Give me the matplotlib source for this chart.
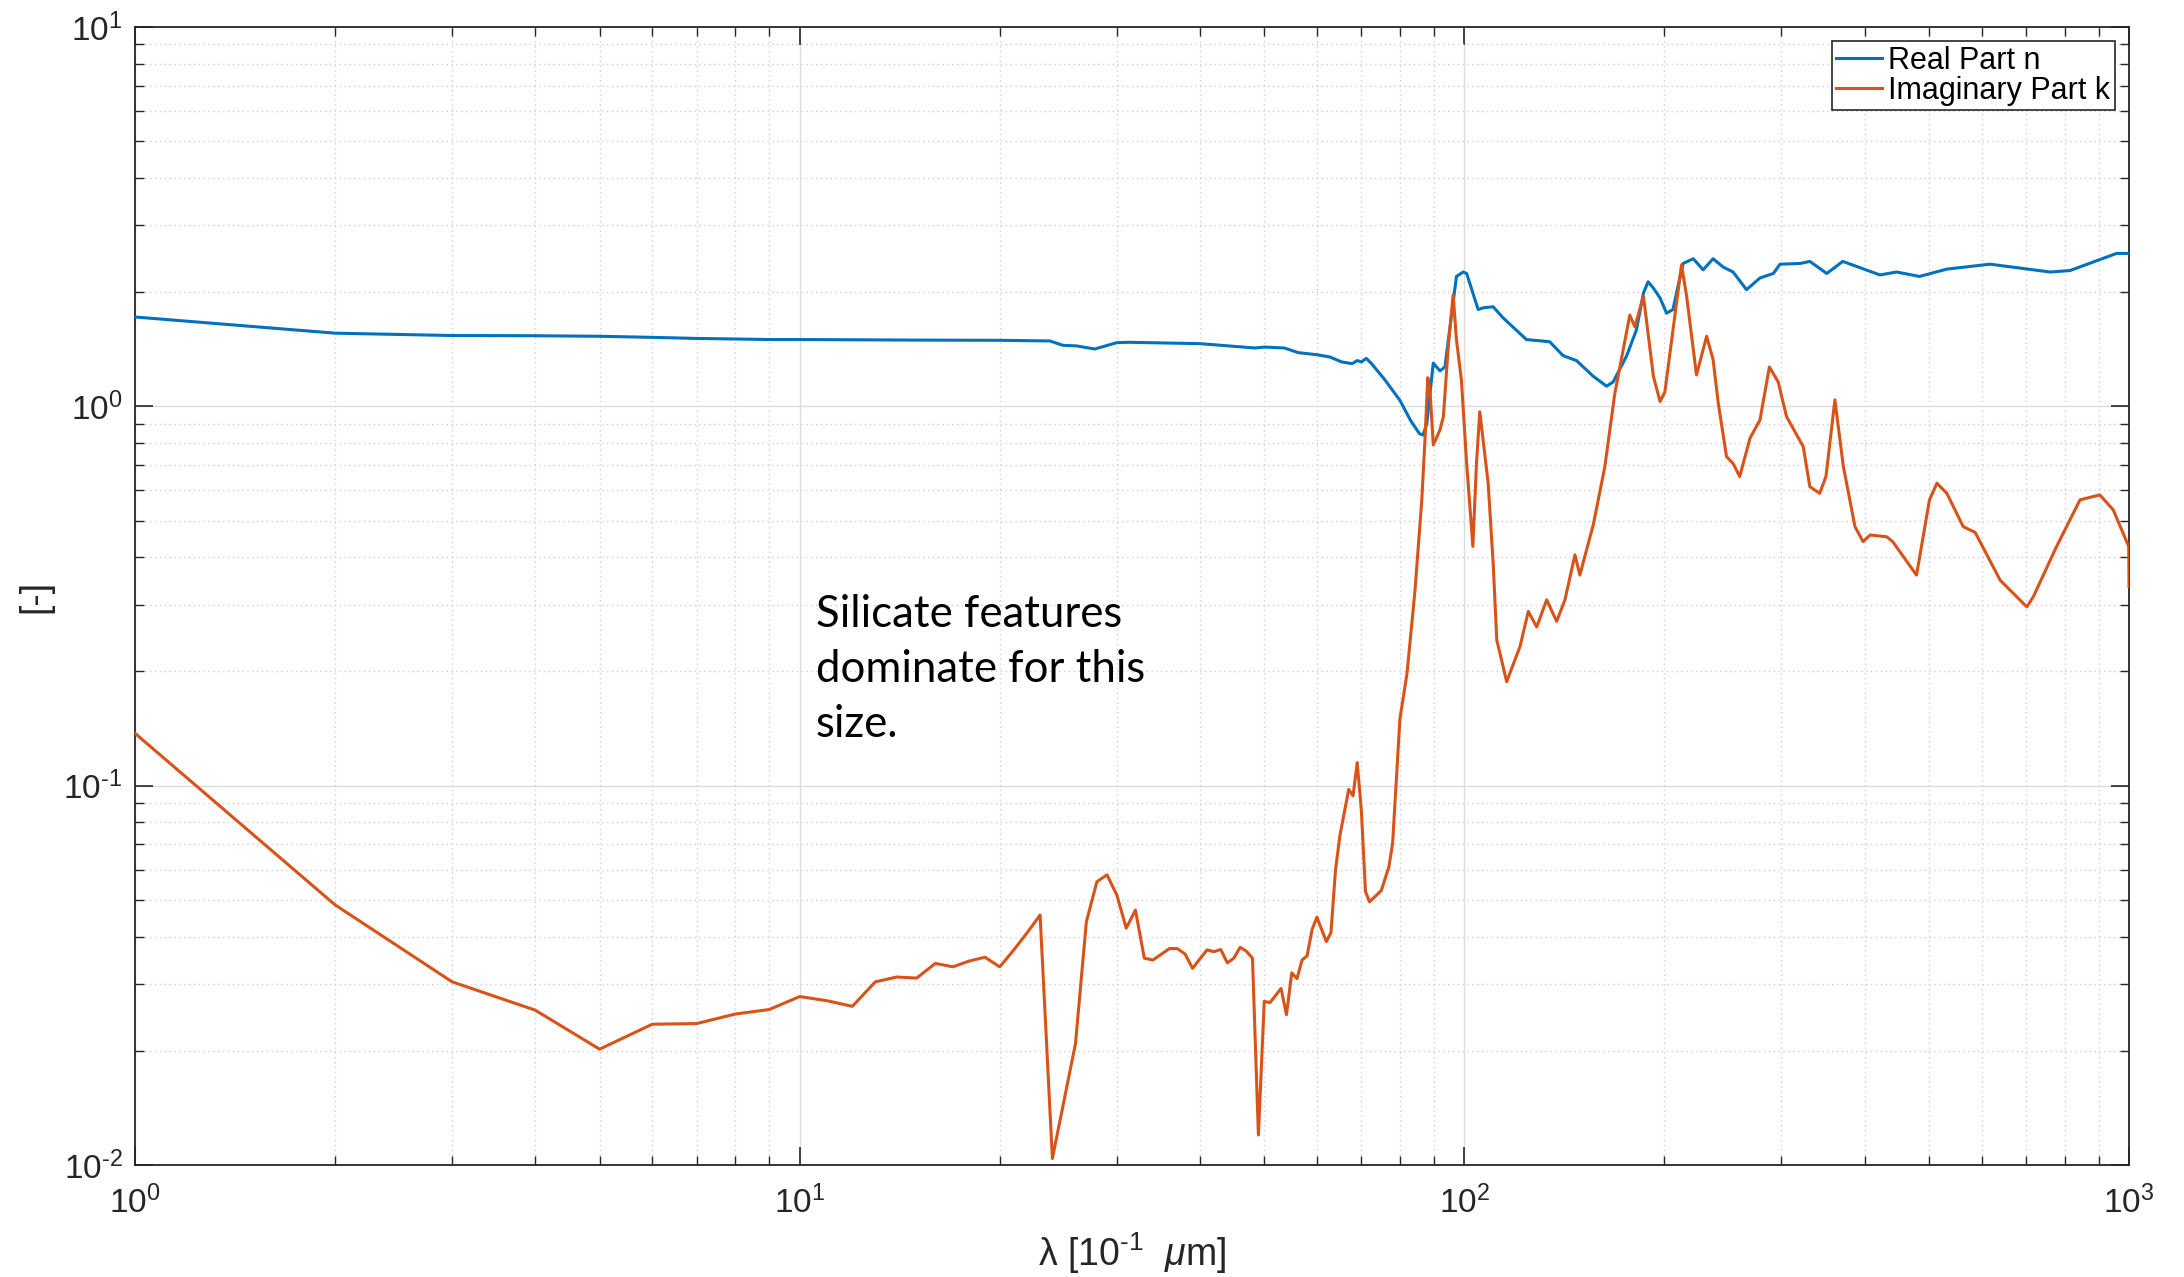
import numpy as np
import matplotlib
matplotlib.use('Agg')
import matplotlib.pyplot as plt
from matplotlib.ticker import LogLocator, NullFormatter, FuncFormatter

# ---------------- data ----------------
real_x = [1, 2, 3, 4, 5, 6, 7, 8, 9, 10, 15, 20, 23.8, 24.9, 26.1, 27.8, 30, 31.3,
          40, 43.1, 48.4, 50, 53.6, 56.3, 60, 62.8, 65.4, 67.8, 69, 70, 71.2, 72.5,
          75.7, 80, 83, 85.6, 86.7, 87.8, 89.8, 91.9, 93.5, 97.3, 99.6, 100.8, 104.9,
          107, 110.5, 114.4, 124, 134.4, 140.8, 147.5, 156.3, 163.7, 167.5, 175.5,
          181.5, 186, 189, 192.5, 197, 201.5, 206, 209.6, 213.4, 221, 228.7, 236.7,
          245, 253.7, 265.8, 278.5, 291.7, 298.5, 320, 331, 351, 371, 422, 447, 484,
          532, 618, 761, 815, 958, 1000]
real_n = [1.72, 1.559, 1.537, 1.535, 1.53, 1.52, 1.51, 1.505, 1.50, 1.50, 1.495, 1.493,
          1.487, 1.448, 1.443, 1.416, 1.472, 1.475, 1.463, 1.448, 1.425, 1.433, 1.425,
          1.385, 1.368, 1.349, 1.309, 1.296, 1.32, 1.309, 1.338, 1.296, 1.183, 1.037,
          0.918, 0.847, 0.84, 0.90, 1.30, 1.24, 1.27, 2.20, 2.26, 2.24, 1.80, 1.82,
          1.83, 1.71, 1.50, 1.48, 1.36, 1.32, 1.20, 1.13, 1.16, 1.36, 1.59, 1.99, 2.13,
          2.05, 1.93, 1.76, 1.80, 2.07, 2.38, 2.45, 2.29, 2.45, 2.33, 2.26, 2.03, 2.18,
          2.24, 2.37, 2.38, 2.41, 2.24, 2.41, 2.22, 2.26, 2.20, 2.30, 2.37, 2.26, 2.28,
          2.53, 2.53]

imag_x = [1, 2, 3, 4, 5, 6, 7, 8, 9, 10, 11, 12, 13, 14, 15, 16, 17, 18, 19, 20, 21, 22,
          23, 24, 26, 27, 28, 29, 30, 31, 32, 33, 34, 36, 37, 38, 39, 41, 42, 43, 44, 45,
          46, 47, 48, 49, 50, 51, 53, 54, 55, 56, 57, 58, 59, 60, 62, 63, 64, 65, 67, 68,
          69, 70, 71, 72, 75, 77, 78, 80, 82, 84.3, 86.3, 87.3, 88.1, 88.8, 89.8, 91.9,
          93, 94.6, 96.2, 97.3, 99, 100.8, 103, 104.3, 105.5, 108.6, 110.5, 111.9,
          115.8, 121.3, 124.8, 128.5, 133, 137.7, 141.7, 146.7, 149.2, 156.3, 162.7,
          168.4, 177.4, 180.5, 186, 192.5, 197, 200.3, 212.2, 216, 223.5, 231.5, 236.7,
          241, 248, 253.7, 259.6, 269, 278.5, 287.7, 296.6, 305.3, 323.5, 331, 342.5,
          350, 361, 371.8, 387, 398, 408, 432, 441, 473, 479, 501, 514, 532, 563, 587,
          640, 702, 718, 778, 844, 904, 947, 999, 1000]
imag_k = [0.1374, 0.0485, 0.0304, 0.0256, 0.0202, 0.0235, 0.0236, 0.0250, 0.0257,
          0.0278, 0.0271, 0.0262, 0.0304, 0.0313, 0.0311, 0.0340, 0.0333, 0.0345,
          0.0353, 0.0333, 0.0369, 0.041, 0.0456, 0.0104, 0.0209, 0.0438, 0.0558,
          0.0582, 0.0515, 0.0421, 0.047, 0.0351, 0.0347, 0.0372, 0.0372, 0.036, 0.033,
          0.0369, 0.0365, 0.037, 0.0341, 0.0351, 0.0375, 0.0366, 0.0351, 0.012, 0.027,
          0.0268, 0.0292, 0.0249, 0.0321, 0.031, 0.0347, 0.0356, 0.0417, 0.045, 0.0388,
          0.041, 0.060, 0.0741, 0.0978, 0.094, 0.115, 0.086, 0.0526, 0.0494, 0.0529,
          0.0611, 0.0705, 0.15, 0.198, 0.328, 0.567, 0.832, 1.19, 1.10, 0.791, 0.866,
          0.94, 1.44, 1.97, 1.50, 1.17, 0.708, 0.427, 0.708, 0.968, 0.627, 0.386,
          0.242, 0.188, 0.233, 0.288, 0.262, 0.309, 0.271, 0.309, 0.406, 0.359, 0.487,
          0.693, 1.08, 1.74, 1.62, 1.95, 1.20, 1.03, 1.09, 2.36, 1.95, 1.21, 1.53, 1.33,
          1.02, 0.737, 0.707, 0.653, 0.824, 0.921, 1.27, 1.16, 0.94, 0.783, 0.614,
          0.590, 0.653, 1.04, 0.693, 0.482, 0.440, 0.458, 0.453, 0.440, 0.370, 0.359,
          0.567, 0.627, 0.59, 0.482, 0.465, 0.348, 0.296, 0.315, 0.427, 0.567, 0.584,
          0.533, 0.427, 0.335]

series_labels = ['Real Part n', 'Imaginary Part k']
x_label = r'$\lambda$ [10$^{\text{-}1}$  $\mathit{\mu}$m]'
y_label = '[-]'
note_text = "Silicate features\ndominate for this\nsize."

# ---------------- style ----------------
plt.rcParams['font.family'] = ['Liberation Sans', 'DejaVu Sans']
plt.rcParams['mathtext.fontset'] = 'custom'
plt.rcParams['mathtext.rm'] = 'Liberation Sans'
plt.rcParams['mathtext.it'] = 'Liberation Sans:italic'
plt.rcParams['mathtext.default'] = 'regular'

W, H = 2184, 1277
fig = plt.figure(figsize=(W / 100, H / 100), dpi=100)
ax = fig.add_axes([135 / W, 112 / H, 1994 / W, 1138 / H])

ax.plot(real_x, real_n, color='#0072BD', lw=2.2, label=series_labels[0], zorder=3)
ax.plot(imag_x, imag_k, color='#D95319', lw=2.2, label=series_labels[1], zorder=3)

ax.set_xscale('log')
ax.set_yscale('log')
ax.set_xlim(1, 1000)
ax.set_ylim(0.01, 10)


def dec_fmt(v, pos):
    e = int(round(np.log10(v)))
    s = str(e) if e >= 0 else r'\text{-}' + str(-e)
    return r'$\mathdefault{10^{%s}}$' % s


for axis in (ax.xaxis, ax.yaxis):
    axis.set_major_locator(LogLocator(base=10, numticks=10))
    axis.set_minor_locator(LogLocator(base=10, subs=np.arange(2, 10), numticks=100))
    axis.set_major_formatter(FuncFormatter(dec_fmt))
    axis.set_minor_formatter(NullFormatter())

ax.set_axisbelow(True)
ax.grid(True, which='major', color='#DCDCDC', lw=1.0, ls='-')
ax.grid(True, which='minor', color='#CFCFCF', lw=1.0, ls=(0, (1, 2.5)))

ax.tick_params(which='both', direction='in', top=True, right=True,
               color='#262626', labelcolor='#262626')
ax.tick_params(which='major', length=13, width=1.2, labelsize=24)
ax.tick_params(axis='x', which='major', pad=15)
ax.tick_params(axis='y', which='major', pad=9)
ax.tick_params(which='minor', length=6.5, width=1.0)
for s in ax.spines.values():
    s.set_color('#262626')
    s.set_linewidth(1.3)

ax.set_xlabel(x_label, fontsize=27, color='#262626', labelpad=7)
ax.set_ylabel(y_label, fontsize=27, color='#262626', labelpad=7)

leg = ax.legend(loc='upper right', bbox_to_anchor=((2115 - 135) / 1994, (1165 - 41) / 1138),
                borderaxespad=0, fontsize=22, frameon=True, fancybox=False,
                edgecolor='#262626', framealpha=1, handlelength=1.5,
                borderpad=0.15, labelspacing=0.0, handletextpad=0.2)
leg.get_frame().set_linewidth(1.2)

fig.text(816 / W, 1 - 594 / H, note_text, fontsize=31.5, family=['Lato', 'DejaVu Sans'],
         va='top', ha='left', linespacing=1.43, color='black')

fig.savefig('out.png', dpi=100)
